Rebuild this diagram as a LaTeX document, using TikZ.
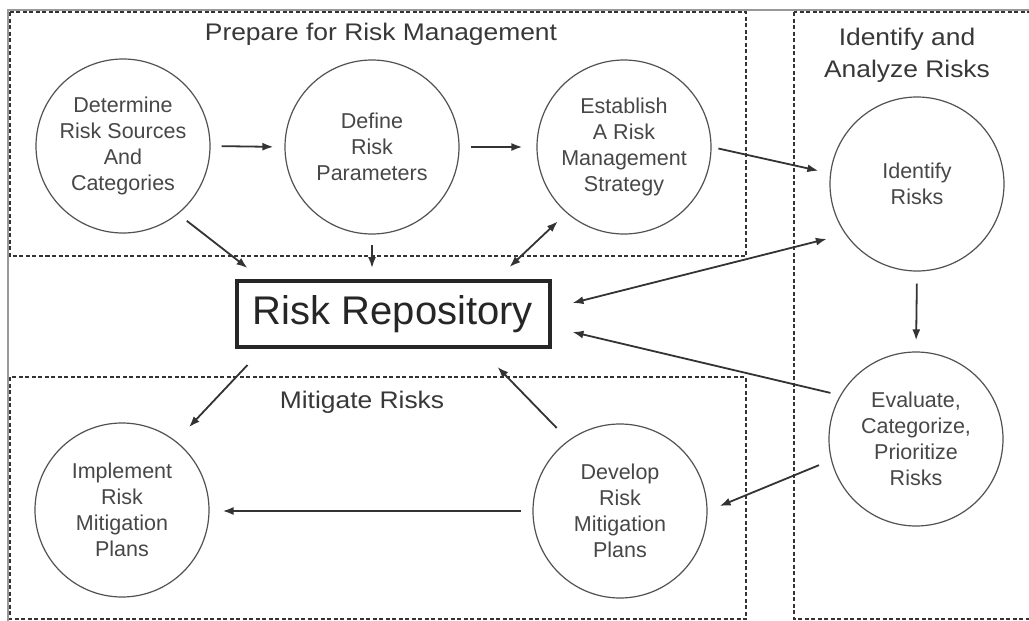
\documentclass[tikz,border=0pt]{standalone}
\usepackage{fontspec}
\setmainfont{Liberation Sans}
\usetikzlibrary{arrows.meta,calc}
\newcommand\widetext[1]{\scalebox{1.1}[1]{\begin{tabular}{@{}c@{}}#1\end{tabular}}}
\begin{document}
\begin{tikzpicture}[x=1pt,y=-1pt,
  proc/.style={circle, draw=black!68, line width=1.2pt, minimum size=174pt, inner sep=0pt, align=center,
    font=\fontsize{21.5}{26}\selectfont, text=black!72},
  region/.style={draw=black!80, line width=1.6pt, dash pattern=on 4pt off 2.5pt},
  flow/.style={draw=black!80, line width=1.8pt, -{Latex[length=11pt,width=8pt]}},
  both/.style={draw=black!80, line width=1.8pt, {Latex[length=11pt,width=8pt]}-{Latex[length=11pt,width=8pt]}},
  head/.style={font=\fontsize{24}{32}\selectfont, text=black!78, inner sep=0pt},
  repo/.style={draw=black!85, line width=4pt, minimum width=313pt, minimum height=66pt, inner sep=0pt,
    font=\fontsize{40}{42}\selectfont, text=black!85}]

\useasboundingbox (0,0) rectangle (1029,621);
\fill[white] (0,0) rectangle (1029,621);
\draw[black!40, line width=1.5pt] (8,640) -- (8,10) -- (1040,10);

% regions
\draw[region] (10,12) rectangle (746,256);
\draw[region] (794,12) rectangle (1040,619);
\draw[region] (10,377) rectangle (746,619);

% headings
\node[head] (hprep) at (381,34) {\widetext{Prepare for Risk Management}};
\node[head] (hid) at (907,55) {\widetext{Identify and\\Analyze Risks}};
\node[head] (hmit) at (362,402) {\widetext{Mitigate Risks}};

% processes
\node[proc] (det) at (123,146) {Determine\\Risk Sources\\And\\Categories};
\node[proc] (def) at (372,147) {Define\\Risk\\Parameters};
\node[proc] (est) at (624,147) {Establish\\A Risk\\Management\\Strategy};
\node[proc] (idr) at (917,184) {Identify\\Risks};
\node[proc] (eva) at (916,439) {Evaluate,\\Categorize,\\Prioritize\\Risks};
\node[proc] (dev) at (620,511) {Develop\\Risk\\Mitigation\\Plans};
\node[proc] (imp) at (122,510) {Implement\\Risk\\Mitigation\\Plans};
\node[repo] (rr) at (393,314) {Risk Repository};

% connectors
\draw[flow, shorten <=11pt, shorten >=11pt] (det.east) -- (def.west);
\draw[flow, shorten <=11pt, shorten >=14pt] (def.east) -- (est.west);
\draw[flow, shorten <=7pt, shorten >=12pt] (est.east) -- (idr.173);
\draw[flow, shorten <=11pt] (det.-51) -- ($(rr.north west)+(13,-11)$);
\draw[flow, shorten <=10pt, shorten >=11pt] (def.south) -- (def.south |- rr.north);
\draw[both, shorten <=12pt] (est.229) -- ($(rr.north east)+(-42,-12)$);
\draw[both, shorten <=19pt] (idr.215) -- ($(rr.east)+(21,-11)$);
\draw[flow, shorten <=12pt, shorten >=11pt] (idr.south) -- (eva.north);
\draw[flow, shorten <=10pt] (eva.150) -- ($(rr.east)+(21,18)$);
\draw[flow, shorten <=13pt, shorten >=13pt] (eva.194) -- (dev.east);
\draw[flow, shorten <=17pt] (dev.126) -- ($(rr.south east)+(-54,18)$);
\draw[flow, shorten >=19pt] ($(rr.south west)+(13,16)$) -- (imp.52);
\draw[flow, shorten <=11pt, shorten >=13pt] (dev.west) -- (dev.west -| imp.east);
\end{tikzpicture}
\end{document}
